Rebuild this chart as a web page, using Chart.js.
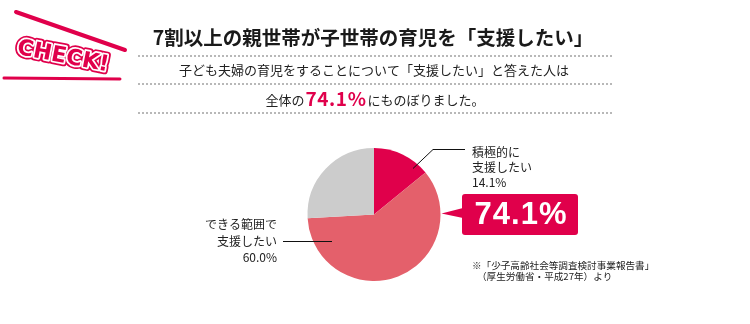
<!DOCTYPE html>
<html lang="ja">
<head>
<meta charset="utf-8">
<script src="https://cdn.jsdelivr.net/npm/chart.js@4"></script>
<style>
  html, body { margin: 0; padding: 0; background: #fff; }
  #wrap { width: 750px; height: 324px; }
</style>
</head>
<body>
<div id="wrap"><canvas id="supportPie" width="750" height="324"></canvas></div>
<script>
const categories = ['積極的に支援したい', 'できる範囲で支援したい', 'その他'];
const shares = [14.1, 60.0, 25.9];
const sliceColors = ['#e0004b', '#e4606b', '#cccccc'];

const titleText = '7割以上の親世帯が子世帯の育児を「支援したい」';
const leadText = '子ども夫婦の育児をすることについて「支援したい」と答えた人は';
const sourceLines = ['※「少子高齢社会等調査検討事業報告書」', '（厚生労働省・平成27年）より'];

const JP = '"Noto Sans CJK JP", "Noto Sans", sans-serif';
const RED = '#e0004b';
const INK = '#222';

function pct(v){ return v.toFixed(1) + '%'; }

function dottedLine(ctx, y){
    ctx.save();
    ctx.strokeStyle = '#b8b8b8';
    ctx.lineWidth = 2;
    ctx.setLineDash([2, 2]);
    ctx.beginPath();
    ctx.moveTo(138, y);
    ctx.lineTo(613, y);
    ctx.stroke();
    ctx.restore();
}

function drawBadge(ctx){
    ctx.save();
    ctx.strokeStyle = RED;
    ctx.lineCap = 'round';
    ctx.lineWidth = 4;
    ctx.beginPath();
    ctx.moveTo(16, 12);
    ctx.lineTo(125, 50);
    ctx.stroke();
    ctx.lineWidth = 3;
    ctx.beginPath();
    ctx.moveTo(4, 78);
    ctx.lineTo(120, 79);
    ctx.stroke();

    ctx.translate(63, 57);
    ctx.rotate(11 * Math.PI / 180);
    ctx.font = 'bold 22px "DejaVu Sans", sans-serif';
    ctx.textAlign = 'center';
    ctx.textBaseline = 'middle';
    ctx.lineJoin = 'round';
    ctx.lineWidth = 7;
    ctx.strokeStyle = RED;
    ctx.strokeText('CHECK!', 0, 0);
    ctx.lineWidth = 3.5;
    ctx.strokeStyle = '#fff';
    ctx.strokeText('CHECK!', 0, 0);
    ctx.fillStyle = RED;
    ctx.fillText('CHECK!', 0, 0);
    ctx.restore();
}

const annotations = {
    id: 'annotations',
    afterDraw(chart){
        const ctx = chart.ctx;
        const arcs = chart.getDatasetMeta(0).data;
        const cx = arcs[0].x, cy = arcs[0].y, r = arcs[0].outerRadius;

        drawBadge(ctx);

        // header
        ctx.save();
        ctx.textBaseline = 'middle';
        ctx.textAlign = 'center';
        ctx.fillStyle = '#1a1a1a';
        ctx.font = 'bold 19.5px ' + JP;
        ctx.fillText(titleText, 373, 38);
        dottedLine(ctx, 56);
        ctx.font = '13px ' + JP;
        ctx.fillStyle = INK;
        ctx.fillText(leadText, 374, 70);
        dottedLine(ctx, 84);

        const total = pct(shares[0] + shares[1]);
        const before = '全体の', after = 'にものぼりました。';
        ctx.font = '13px ' + JP;
        const wb = ctx.measureText(before).width, wa = ctx.measureText(after).width;
        ctx.font = 'bold 19px ' + JP;
        const wt = ctx.measureText(total).width + 3;
        let x = 374 - (wb + wt + wa) / 2;
        ctx.textAlign = 'left';
        ctx.font = '13px ' + JP;
        ctx.fillStyle = INK;
        ctx.fillText(before, x, 100);
        ctx.font = 'bold 19px ' + JP;
        ctx.fillStyle = RED;
        ctx.letterSpacing = '0.6px';
        ctx.fillText(total, x + wb + 1, 99);
        ctx.letterSpacing = '0px';
        ctx.font = '13px ' + JP;
        ctx.fillStyle = INK;
        ctx.fillText(after, x + wb + wt + 2, 100);
        dottedLine(ctx, 113);

        // leader lines
        ctx.strokeStyle = '#111';
        ctx.lineWidth = 1;
        ctx.beginPath();
        ctx.moveTo(cx + 39, cy - 46);
        ctx.lineTo(cx + 59, cy - 65);
        ctx.lineTo(cx + 91, cy - 65);
        ctx.stroke();
        ctx.beginPath();
        ctx.moveTo(cx - 42, cy + 27);
        ctx.lineTo(cx - 91, cy + 27);
        ctx.stroke();

        // slice labels
        ctx.font = '12px ' + JP;
        ctx.fillStyle = INK;
        ctx.textAlign = 'left';
        ['積極的に', '支援したい', pct(shares[0])].forEach((t, i) => {
            ctx.fillText(t, cx + 98, cy - 62 + i * 15);
        });
        ctx.textAlign = 'right';
        ['できる範囲で', '支援したい', pct(shares[1])].forEach((t, i) => {
            ctx.fillText(t, cx - 97, cy + 10 + i * 16.5);
        });

        // callout box with total
        const bx = 462, by = 194, bw = 116, bh = 41;
        ctx.fillStyle = RED;
        ctx.beginPath();
        ctx.roundRect(bx, by, bw, bh, 3);
        ctx.fill();
        ctx.beginPath();
        ctx.moveTo(bx + 1, 208);
        ctx.lineTo(cx + r + 1, cy - 1);
        ctx.lineTo(bx + 1, 218);
        ctx.closePath();
        ctx.fill();
        ctx.fillStyle = '#fff';
        ctx.textAlign = 'center';
        ctx.letterSpacing = '1px';
        ctx.font = 'bold 31px "Liberation Sans", Arial, sans-serif';
        ctx.fillText(total, bx + bw / 2 + 1, by + bh / 2 + 1);
        ctx.letterSpacing = '0px';

        // source note
        ctx.fillStyle = INK;
        ctx.textAlign = 'left';
        ctx.font = '9.6px ' + JP;
        ctx.fillText(sourceLines[0], 472, 265);
        ctx.fillText(sourceLines[1], 477, 276);
        ctx.restore();
    }
};

new Chart(document.getElementById('supportPie'), {
    type: 'pie',
    data: {
        labels: categories,
        datasets: [{
            data: shares,
            backgroundColor: sliceColors,
            borderWidth: 0
        }]
    },
    options: {
        responsive: false,
        animation: false,
        devicePixelRatio: 1,
        layout: { padding: { left: 307, right: 309, top: 148, bottom: 43 } },
        plugins: {
            legend: { display: false },
            tooltip: { enabled: false }
        }
    },
    plugins: [annotations]
});
</script>
</body>
</html>
